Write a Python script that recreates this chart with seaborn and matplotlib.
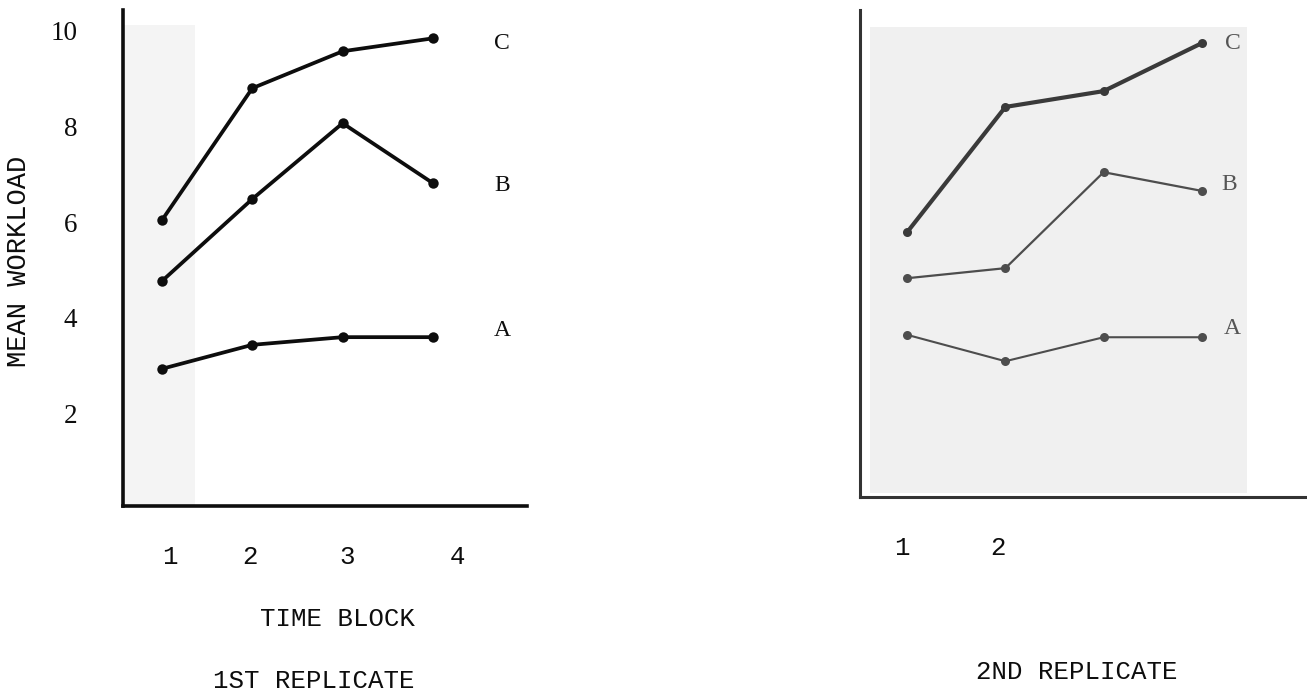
import numpy as np
import pandas as pd
import matplotlib.pyplot as plt
from matplotlib.patches import Rectangle
import seaborn as sns


blocks = [1, 2, 3, 4]
groups = ['A', 'B', 'C']

# 1st replicate, mean workload per time block
rep1_a = [2.94, 3.44, 3.60, 3.60]
rep1_b = [4.77, 6.48, 8.06, 6.81]
rep1_c = [6.04, 8.79, 9.56, 9.83]

# 2nd replicate
rep2_a = [3.65, 3.10, 3.60, 3.60]
rep2_b = [4.83, 5.04, 7.04, 6.65]
rep2_c = [5.79, 8.40, 8.73, 9.73]

y_ticks = [2, 4, 6, 8, 10]
rep1_xlabels = ['1', '2', '3', '4']
rep2_xlabels = ['1', '2']


def long_frame(a, b, c):
    return pd.DataFrame({
        'block': blocks * 3,
        'workload': a + b + c,
        'group': [g for g in groups for _ in blocks],
    })


rep1 = long_frame(rep1_a, rep1_b, rep1_c)
rep2 = long_frame(rep2_a, rep2_b, rep2_c)

sns.set_theme(style='white')
plt.rcParams['font.family'] = ['Liberation Mono', 'DejaVu Sans']

fig = plt.figure(figsize=(13.07, 6.96), dpi=100)
ax1 = fig.add_axes([0.0941, 0.273, 0.309, 0.7126])
ax2 = fig.add_axes([0.658, 0.2859, 0.342, 0.6997])

# faint scan shading
ax1.axvspan(0.568, 1.37, ymin=0.0, ymax=0.97, color='#f4f4f4', lw=0, zorder=0)
ax2.add_patch(Rectangle((0.62, 0.35), 3.84, 9.71, color='#f0f0f0', lw=0, zorder=0))

# left panel: black lines
for g in groups:
    sns.lineplot(data=rep1[rep1['group'] == g], x='block', y='workload',
                 color='#0d0d0d', linewidth=2.7, marker='o', markersize=7.5,
                 markeredgewidth=0, ax=ax1, legend=False)

# right panel: grey lines
right_style = {'A': ('#4d4d4d', 1.5), 'B': ('#4d4d4d', 1.6), 'C': ('#3a3a3a', 3.0)}
for g in groups:
    col, lw = right_style[g]
    sns.lineplot(data=rep2[rep2['group'] == g], x='block', y='workload',
                 color=col, linewidth=lw, marker='o', markersize=6.5,
                 markeredgewidth=0, ax=ax2, legend=False)

# series labels at the line ends
left_off = {'A': (50, 5), 'B': (50, -1.5), 'C': (50, -3.5)}
right_off = {'A': (22, 6.5), 'B': (20, 4.3), 'C': (22, 0)}
for ax, df, offs, col in [(ax1, rep1, left_off, '#0d0d0d'), (ax2, rep2, right_off, '#555555')]:
    for g in groups:
        last = df[df['group'] == g].iloc[-1]
        ax.annotate(g, (last['block'], last['workload']), xytext=offs[g],
                    textcoords='offset points', ha='center', va='center',
                    fontsize=17, family='Liberation Serif', color=col)

ax1.set_xlim(0.568, 5.04)
ax1.set_ylim(0.08, 10.42)
ax2.set_xlim(0.52, 5.07)
ax2.set_ylim(0.27, 10.42)

ax1.set_yticks(y_ticks)
ax1.set_yticklabels([str(t) for t in y_ticks], family='Liberation Serif', fontsize=19.5)
ax1.set_xticks([1.09, 1.97, 3.05, 4.27])
ax1.set_xticklabels(rep1_xlabels, fontsize=18.5)
ax2.set_yticks([])
ax2.set_xticks([0.95, 1.92])
ax2.set_xticklabels(rep2_xlabels, fontsize=18.5)

ax1.tick_params(axis='y', length=0, pad=33, colors='#0d0d0d')
ax1.tick_params(axis='x', length=0, pad=28, colors='#0d0d0d')
ax2.tick_params(axis='x', length=0, pad=28, colors='#0d0d0d')

for ax, col, lw in [(ax1, '#0d0d0d', 2.6), (ax2, '#333333', 2.2)]:
    ax.set_facecolor('white')
    ax.spines['top'].set_visible(False)
    ax.spines['right'].set_visible(False)
    ax.spines['left'].set_color(col)
    ax.spines['bottom'].set_color(col)
    ax.spines['left'].set_linewidth(lw)
    ax.spines['bottom'].set_linewidth(lw)
    ax.set_xlabel('')
    ax.set_ylabel('')

ax1.set_ylabel('MEAN WORKLOAD', fontsize=19.5, color='#0d0d0d')
ax1.yaxis.set_label_coords(-0.225, 0.494)
ax1.set_xlabel('TIME BLOCK', fontsize=18.5, color='#0d0d0d')
ax1.xaxis.set_label_coords(0.532, -0.204)

fig.text(314 / 1307, 1 - 681 / 696, '1ST REPLICATE', ha='center', va='center',
         fontsize=18.5, color='#0d0d0d')
fig.text(1077 / 1307, 1 - 672 / 696, '2ND REPLICATE', ha='center', va='center',
         fontsize=18.5, color='#0d0d0d')

fig.savefig('out.png', dpi=100, facecolor='white')
